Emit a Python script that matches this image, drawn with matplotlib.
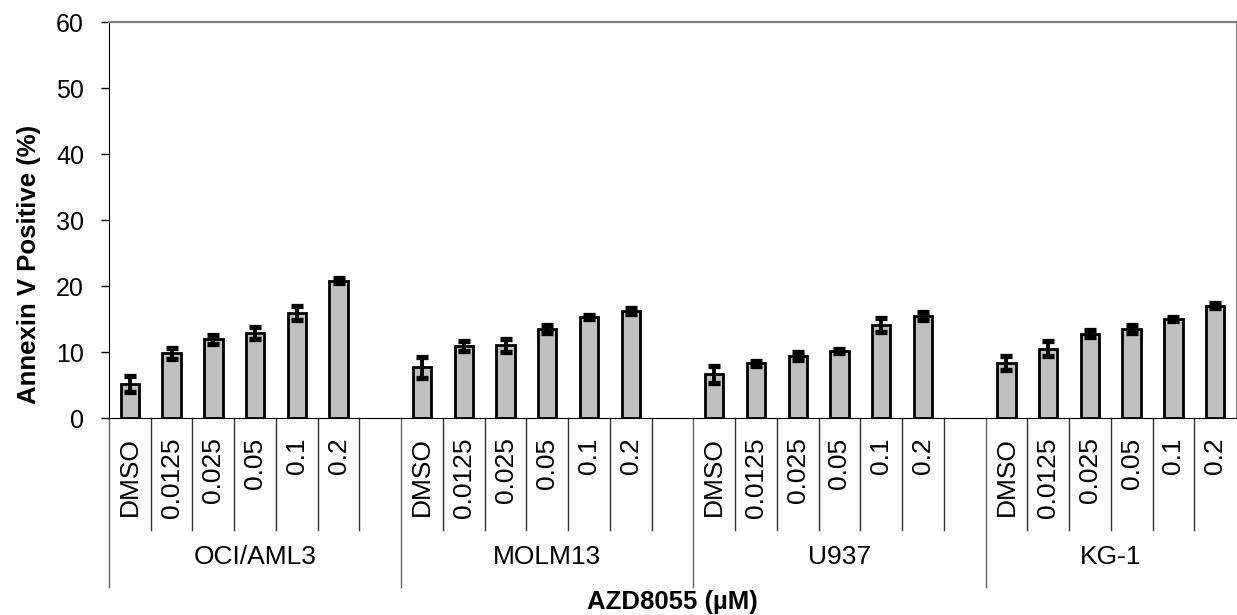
import matplotlib
matplotlib.use("Agg")
import matplotlib.pyplot as plt
import matplotlib.transforms as mtransforms

plt.rcParams['font.family'] = ['Liberation Sans', 'DejaVu Sans']

# data
cell_lines = ["OCI/AML3", "MOLM13", "U937", "KG-1"]
doses = ["DMSO", "0.0125", "0.025", "0.05", "0.1", "0.2"]
oci_vals = [5.1, 9.8, 11.9, 12.9, 15.9, 20.8]
oci_err = [1.2, 0.8, 0.7, 0.9, 1.0, 0.4]
molm_vals = [7.7, 10.9, 11.0, 13.5, 15.3, 16.2]
molm_err = [1.6, 0.8, 1.0, 0.6, 0.3, 0.5]
u937_vals = [6.6, 8.3, 9.4, 10.1, 14.1, 15.5]
u937_err = [1.3, 0.4, 0.6, 0.3, 1.0, 0.6]
kg1_vals = [8.3, 10.5, 12.8, 13.5, 15.0, 17.0]
kg1_err = [1.1, 1.1, 0.5, 0.6, 0.3, 0.4]

all_vals = [oci_vals, molm_vals, u937_vals, kg1_vals]
all_err = [oci_err, molm_err, u937_err, kg1_err]

W, H = 1237, 615
fig = plt.figure(figsize=(W / 100, H / 100), dpi=100)
ax = fig.add_axes([109 / W, 1 - 418 / H, (1236 - 109) / W, (418 - 22) / H])

slots = 7  # 6 bars + one empty slot per group
xs, ys, es, labels = [], [], [], []
for g in range(len(cell_lines)):
    for i in range(len(doses)):
        xs.append(g * slots + i)
        ys.append(all_vals[g][i])
        es.append(all_err[g][i])
        labels.append(doses[i])

ax.bar(xs, ys, width=0.44, color="#C0C0C0", edgecolor="black", linewidth=2.0, zorder=2)
ax.errorbar(xs, ys, yerr=es, fmt="none", ecolor="black", elinewidth=2.8,
            capsize=4.5, capthick=3.8, zorder=3)

n_slots = slots * len(cell_lines) - 1
ax.set_xlim(-0.5, n_slots - 0.5)
ax.set_ylim(0, 60)
ax.set_yticks(range(0, 61, 10))
ax.tick_params(axis="y", length=6, width=1, pad=12, labelsize=18)

ax.set_xticks(xs)
ax.set_xticklabels(labels, rotation=90, fontsize=19)
ax.tick_params(axis="x", length=0, pad=14)

ax.spines["left"].set_color("black")
ax.spines["bottom"].set_color("black")
ax.spines["top"].set_color("#808080")
ax.spines["top"].set_linewidth(1.6)
ax.spines["right"].set_color("#808080")

# category separators below the axis
trans = mtransforms.blended_transform_factory(ax.transData, ax.transAxes)
inner_bottom = -(530 - 418) / 396
group_bottom = -(587 - 418) / 396
for k in range(n_slots):
    b = k - 0.5
    if k % slots == 0:
        ax.plot([b, b], [0, group_bottom], transform=trans, color="#606060", lw=1, clip_on=False)
    else:
        ax.plot([b, b], [0, inner_bottom], transform=trans, color="#303030", lw=1, clip_on=False)

for g, name in enumerate(cell_lines):
    start = g * slots - 0.5
    end = min(start + slots, n_slots - 0.5)
    ax.text((start + end) / 2, -(557 - 418) / 396, name, transform=trans,
            ha="center", va="center", fontsize=19)

fig.text(672 / W, 1 - 602 / H, "AZD8055 (µM)", ha="center", va="center",
         fontsize=18.5, fontweight="bold")
fig.text(29 / W, 1 - 264 / H, "Annexin V Positive (%)", ha="center", va="center",
         rotation=90, fontsize=18.5, fontweight="bold")

fig.savefig("out.png", dpi=100)
